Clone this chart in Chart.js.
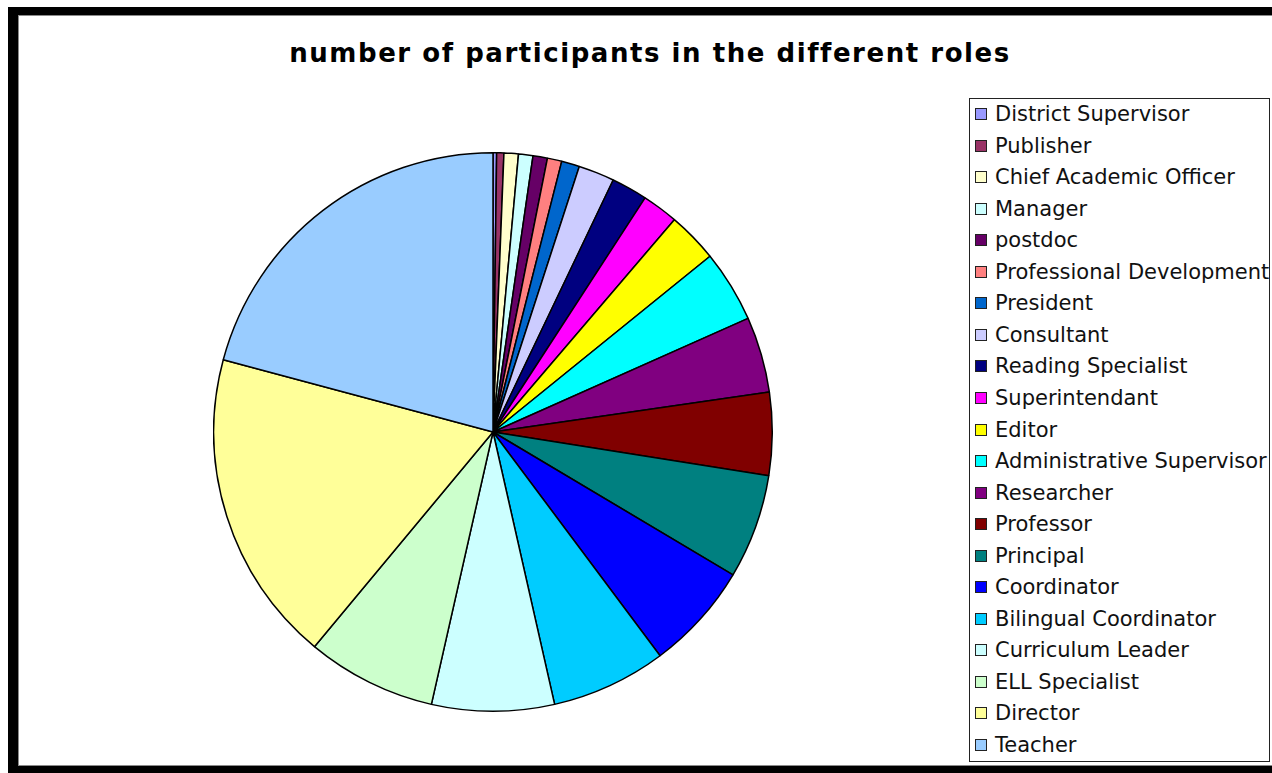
<!DOCTYPE html>
<html>
<head>
<meta charset="utf-8">
<script src="https://cdn.jsdelivr.net/npm/chart.js@4.4.1/dist/chart.umd.min.js"></script>
<style>
  html, body { margin: 0; padding: 0; background: #ffffff; width: 1272px; height: 773px; overflow: hidden; }
  #frame { position: absolute; left: 8px; top: 7px; width: 1300px; height: 750px;
           border-left: 10px solid #000; border-top: 8px solid #000; border-bottom: 8px solid #000;
           box-sizing: content-box; }
  #inner { position: absolute; left: 18px; top: 15px; width: 1300px; height: 749px;
           border-left: 1px solid #8a8a8a; border-top: 1px solid #8a8a8a; border-bottom: 1px solid #8a8a8a; }
  #title { position: absolute; left: 0; top: 38px; width: 1300px; text-align: center;
           font-family: "DejaVu Sans", Verdana, sans-serif; font-weight: bold; color: #000; white-space: nowrap; }
  #pieWrap { position: absolute; left: 213px; top: 152px; width: 560px; height: 560px; }
  #legend { position: absolute; left: 969px; top: 98px; width: 301px; height: 664px;
            border: 1px solid #222; background: #fff; box-sizing: border-box;
            font-family: "DejaVu Sans", Verdana, sans-serif; font-size: 21px; color: #111; }
  .item { position: absolute; left: 0; height: 26px; line-height: 26px; white-space: nowrap; }
  .box { position: absolute; left: 5px; top: 7px; width: 10px; height: 10px; border: 1px solid #222; }
  .txt { position: absolute; left: 25px; top: 0; }
</style>
</head>
<body>
<div id="frame"></div>
<div id="inner"></div>
<div id="title"></div>
<div id="pieWrap"><canvas id="c" width="560" height="560"></canvas></div>
<div id="legend"></div>
<script>
const titleText = "number of participants in the different roles";
const roles = ["District Supervisor", "Publisher", "Chief Academic Officer", "Manager", "postdoc",
  "Professional Development", "President", "Consultant", "Reading Specialist", "Superintendant",
  "Editor", "Administrative Supervisor", "Researcher", "Professor", "Principal", "Coordinator",
  "Bilingual Coordinator", "Curriculum Leader", "ELL Specialist", "Director", "Teacher"];
const participants = [1, 2, 4, 4, 4, 4, 5, 10, 10, 10, 14, 20, 21, 23, 29, 30, 32, 34, 36, 87, 100];
const sliceColors = ["#9999FF", "#993366", "#FFFFCC", "#CCFFFF", "#660066", "#FF8080", "#0066CC",
  "#CCCCFF", "#000080", "#FF00FF", "#FFFF00", "#00FFFF", "#800080", "#800000", "#008080", "#0000FF",
  "#00CCFF", "#CCFFFF", "#CCFFCC", "#FFFF99", "#99CCFF"];

// title: 26px bold, lightly letter-spaced to the reference width
const t = document.getElementById('title');
t.textContent = titleText;
const mc = document.createElement('canvas').getContext('2d');
mc.font = 'bold 26px "DejaVu Sans"';
const w26 = mc.measureText(titleText).width;
t.style.fontSize = '26px';
t.style.letterSpacing = Math.max(0, (720 - w26) / titleText.length).toFixed(3) + 'px';

// legend
const lg = document.getElementById('legend');
roles.forEach((r, i) => {
  const d = document.createElement('div');
  d.className = 'item';
  d.style.top = (2 + i * 31.55) + 'px';
  const b = document.createElement('div');
  b.className = 'box';
  b.style.background = sliceColors[i];
  const s = document.createElement('span');
  s.className = 'txt';
  s.textContent = r;
  d.appendChild(b); d.appendChild(s);
  lg.appendChild(d);
});

new Chart(document.getElementById('c'), {
  type: 'pie',
  data: {
    labels: roles,
    datasets: [{
      data: participants,
      backgroundColor: sliceColors,
      borderColor: '#000000',
      borderWidth: 1.5,
      hoverOffset: 0,
      borderAlign: 'center'
    }]
  },
  options: {
    responsive: false,
    animation: false,
    devicePixelRatio: 1,
    layout: { padding: 0 },
    plugins: { legend: { display: false }, tooltip: { enabled: false }, title: { display: false } }
  }
});
</script>
</body>
</html>
